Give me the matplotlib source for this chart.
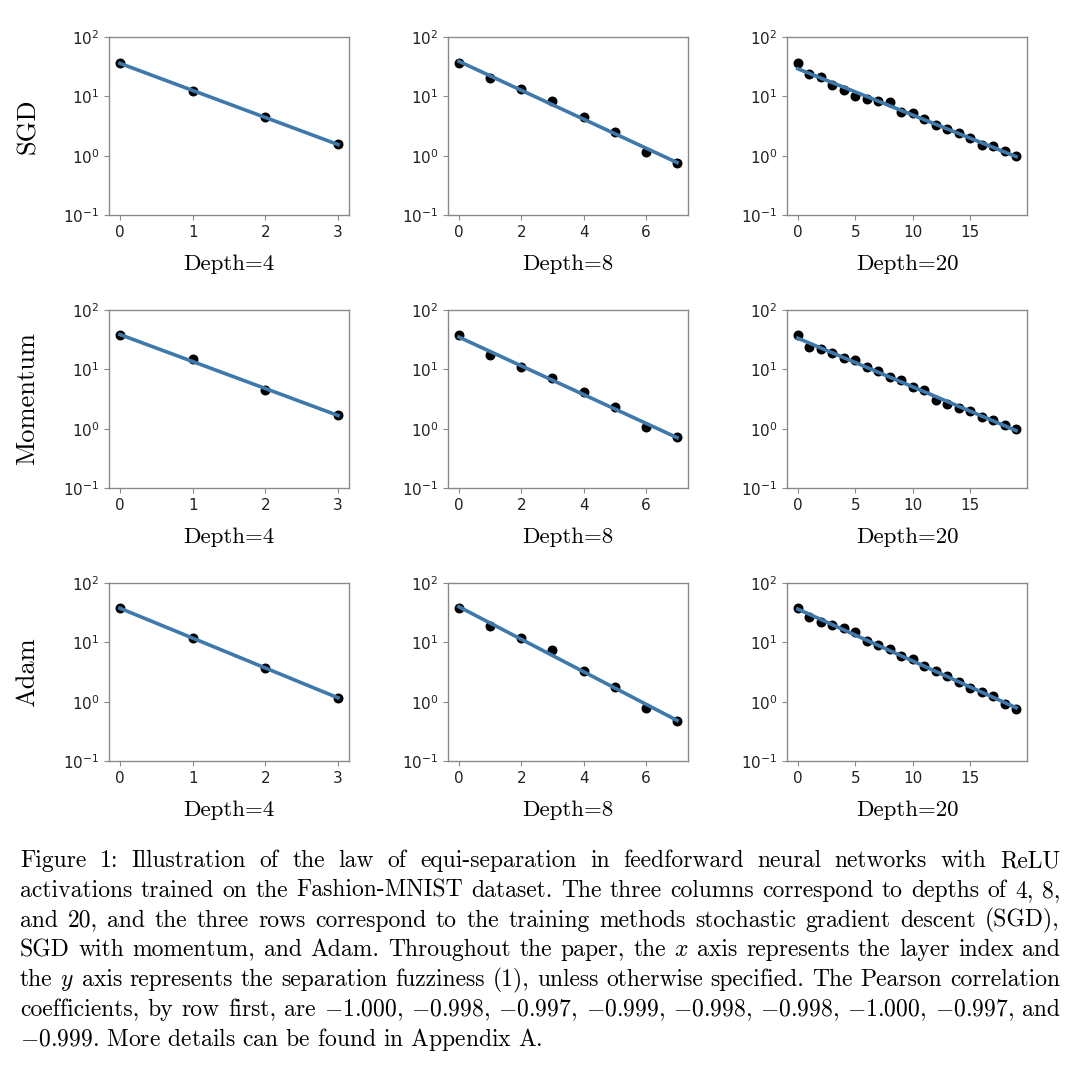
import numpy as np
import matplotlib
matplotlib.use('Agg')
import matplotlib.pyplot as plt
from matplotlib.ticker import NullLocator, LogLocator

# ---------------- data ----------------
optimizers = ['SGD', 'Momentum', 'Adam']
depths = [4, 8, 20]

sgd_d4 = [36.5, 12.3, 4.4, 1.55]
sgd_d8 = [36.5, 20.0, 13.5, 8.2, 4.5, 2.5, 1.15, 0.75]
sgd_d20 = [36.5, 24.1, 21.2, 15.3, 12.9, 10.3, 8.9, 8.3, 8.0, 5.4,
           5.2, 4.15, 3.33, 2.85, 2.38, 1.99, 1.53, 1.45, 1.18, 0.975]
mom_d4 = [37.3, 14.7, 4.46, 1.69]
mom_d8 = [37.8, 17.2, 10.8, 7.2, 4.1, 2.33, 1.06, 0.72]
mom_d20 = [37.3, 24.0, 22.2, 18.5, 15.5, 14.5, 10.9, 9.3, 7.5, 6.6,
           4.95, 4.5, 3.1, 2.6, 2.2, 2.0, 1.6, 1.39, 1.15, 0.99]
adam_d4 = [37.4, 11.8, 3.74, 1.15]
adam_d8 = [37.4, 19.1, 11.7, 7.4, 3.3, 1.75, 0.79, 0.48]
adam_d20 = [37.4, 26.4, 21.7, 19.6, 17.7, 14.7, 10.5, 8.9, 7.6, 5.9,
            5.2, 4.0, 3.25, 2.67, 2.14, 1.72, 1.47, 1.25, 0.90, 0.75]

grid_data = [[sgd_d4, sgd_d8, sgd_d20],
             [mom_d4, mom_d8, mom_d20],
             [adam_d4, adam_d8, adam_d20]]

caption_lines = [
    "Figure 1: Illustration of the law of equi-separation in feedforward neural networks with ReLU",
    "activations trained on the Fashion-MNIST dataset. The three columns correspond to depths of 4, 8,",
    "and 20, and the three rows correspond to the training methods stochastic gradient descent (SGD),",
    "SGD with momentum, and Adam. Throughout the paper, the $x$ axis represents the layer index and",
    "the $y$ axis represents the separation fuzziness (1), unless otherwise specified. The Pearson correlation",
    "coefficients, by row first, are $-$1.000, $-$0.998, $-$0.997, $-$0.999, $-$0.998, $-$0.998, $-$1.000, $-$0.997, and",
    "$-$0.999. More details can be found in Appendix A.",
]

# ---------------- layout ----------------
W, H = 1080, 1077
fig = plt.figure(figsize=(W / 100, H / 100), dpi=100)
fig.patch.set_facecolor('white')

col_left = [109, 448, 787]
ax_w = 240
row_top = [37, 310, 583]
ax_h = 178

line_color = '#3f78aa'
spine_color = '#8a8a8a'
serif = ['cmr10', 'DejaVu Serif']

for r in range(3):
    for c in range(3):
        l = col_left[c] / W
        b = 1 - (row_top[r] + ax_h) / H
        ax = fig.add_axes([l, b, ax_w / W, ax_h / H])
        y = np.array(grid_data[r][c], dtype=float)
        x = np.arange(len(y))
        ax.scatter(x, y, s=38, color='black', zorder=2)
        slope, intercept = np.polyfit(x, np.log10(y), 1)
        ax.plot(x, 10 ** (intercept + slope * x), color=line_color, lw=2.6, zorder=3)
        ax.set_yscale('log')
        ax.set_ylim(0.1, 100)
        ax.yaxis.set_major_locator(LogLocator(base=10, numticks=10))
        ax.yaxis.set_minor_locator(NullLocator())
        if depths[c] == 4:
            ax.set_xticks([0, 1, 2, 3])
        elif depths[c] == 8:
            ax.set_xticks([0, 2, 4, 6])
        else:
            ax.set_xticks([0, 5, 10, 15])
        ax.tick_params(labelsize=11, color=spine_color, labelcolor='#222222')
        for s in ax.spines.values():
            s.set_color(spine_color)
            s.set_linewidth(1.0)
        ax.text(0.5, -0.275, f'Depth={depths[c]}', transform=ax.transAxes,
                ha='center', va='center', fontsize=16.5, family=serif)
        if c == 0:
            ax.text(-0.339, 0.5, optimizers[r], transform=ax.transAxes,
                    ha='center', va='center', rotation=90, fontsize=19, family=serif)

# ---------------- caption (justified) ----------------
fig.canvas.draw()
renderer = fig.canvas.get_renderer()
cap_kw = dict(fontsize=17, family=serif, math_fontfamily='cm', va='baseline', ha='left')
x_start, x_end = 20, 1060
for i, line in enumerate(caption_lines):
    yb = 1 - (867 + 29.8 * i) / H
    if i == len(caption_lines) - 1:
        fig.text(x_start / W, yb, line, **cap_kw)
        continue
    words = line.split(' ')
    texts = [fig.text(0, yb, w, **cap_kw) for w in words]
    widths = [t.get_window_extent(renderer).width for t in texts]
    gap = (x_end - x_start - sum(widths)) / (len(words) - 1)
    xp = x_start
    for t, wd in zip(texts, widths):
        t.set_x(xp / W)
        xp += wd + gap

fig.savefig('out.png', dpi=100, facecolor='white')
